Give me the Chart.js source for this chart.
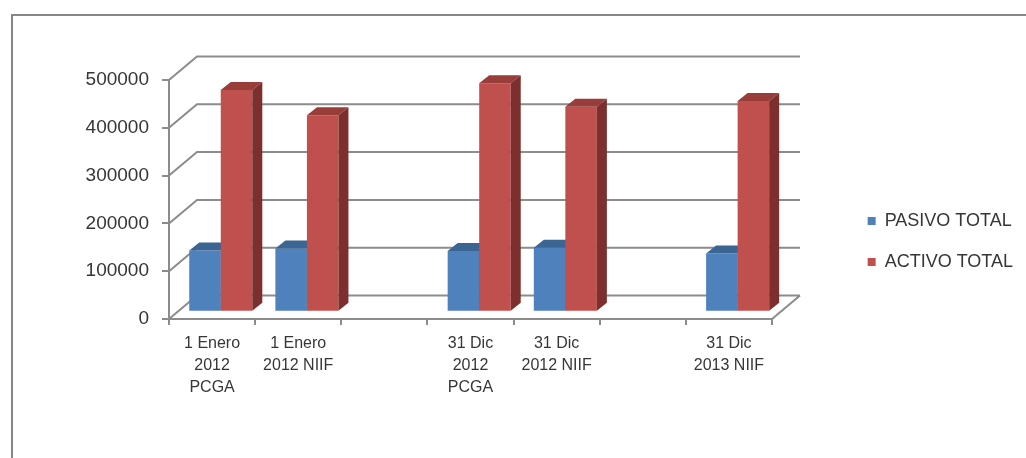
<!DOCTYPE html>
<html>
<head>
<meta charset="utf-8">
<title>Pasivo y activo total</title>
<script src="https://cdn.jsdelivr.net/npm/chart.js@4.4.1/dist/chart.umd.min.js"></script>
<style>
  html, body { margin: 0; padding: 0; background: #fff; }
  #wrap { position: relative; width: 1026px; height: 458px; }
</style>
</head>
<body>
<div id="wrap"><canvas id="chart"></canvas></div>
<script>
// Reporting dates (empty slots keep the gaps between groups)
const categories = [
  ['1 Enero', '2012', 'PCGA'],
  ['1 Enero', '2012 NIIF'],
  '',
  ['31 Dic', '2012', 'PCGA'],
  ['31 Dic', '2012 NIIF'],
  '',
  ['31 Dic', '2013 NIIF']
];
const seriesNames = ['PASIVO TOTAL', 'ACTIVO TOTAL'];
const pasivoTotal = [128000, 132000, null, 127000, 134000, null, 122000];
const activoTotal = [464000, 411000, null, 478000, 429000, null, 441000];
const yTicks = [0, 100000, 200000, 300000, 400000, 500000];

// Right edge of the plot box; the space up to the legend is kept empty
const PLOT_RIGHT = 772;
const RIGHT_PAD = 3;

// 3-D look: back wall offset, column placement inside the box, column depth
const WALL_DX = 28, WALL_DY = -23.5;
const BAR_SHIFT_X = 8.7, BAR_SHIFT_Y = -7.3;
const BAR_DX = 10, BAR_DY = -8;
const GRID = '#8c8c8c';
const TEXT = '#363636';
const shades = [
  { front: '#4f81bd', top: '#3b6592', side: '#2f5179' },
  { front: '#c0504d', top: '#993d3a', side: '#7c2f2d' }
];

Chart.defaults.font.family = "'Liberation Sans', Arial, sans-serif";

// Outer frame of the chart object
const frame = {
  id: 'frame',
  beforeDraw(chart) {
    const ctx = chart.ctx;
    ctx.save();
    ctx.fillStyle = '#fff';
    ctx.fillRect(0, 0, chart.width, chart.height);
    ctx.strokeStyle = '#878787';
    ctx.lineWidth = 2;
    ctx.beginPath();
    ctx.moveTo(12, chart.height + 2);
    ctx.lineTo(12, 15);
    ctx.lineTo(chart.width + 2, 15);
    ctx.stroke();
    ctx.restore();
  }
};

// Back wall, side wall and floor lines, then the columns with top and side faces
const box3d = {
  id: 'box3d',
  beforeDatasetsDraw(chart) {
    const { ctx, scales: { x, y } } = chart;
    const l = x.left, r = x.right, b = y.getPixelForValue(0);
    ctx.save();
    ctx.strokeStyle = GRID;
    ctx.lineWidth = 2;
    ctx.beginPath();
    y.ticks.forEach(t => {
      const py = y.getPixelForValue(t.value);
      ctx.moveTo(l, py);
      ctx.lineTo(l + WALL_DX, py + WALL_DY);
      ctx.lineTo(r + WALL_DX, py + WALL_DY);
    });
    ctx.moveTo(r, b);
    ctx.lineTo(r + WALL_DX, b + WALL_DY);
    ctx.stroke();
    ctx.restore();
  },
  beforeDatasetDraw() {
    return false; // columns are painted below, left to right
  },
  afterDatasetsDraw(chart) {
    const ctx = chart.ctx;
    const datasets = chart.data.datasets;
    const metas = datasets.map((d, i) => chart.getDatasetMeta(i));
    ctx.save();
    ctx.translate(BAR_SHIFT_X, BAR_SHIFT_Y);
    chart.data.labels.forEach((_, idx) => {
      metas.forEach((meta, di) => {
        const el = meta.data[idx];
        if (!el || meta.hidden || datasets[di].data[idx] == null) return;
        const { x, y, base, width } = el.getProps(['x', 'y', 'base', 'width'], true);
        el.draw(ctx, chart.chartArea);
        const l = x - width / 2, r = x + width / 2;
        ctx.fillStyle = shades[di].top;
        ctx.beginPath();
        ctx.moveTo(l, y);
        ctx.lineTo(r, y);
        ctx.lineTo(r + BAR_DX, y + BAR_DY);
        ctx.lineTo(l + BAR_DX, y + BAR_DY);
        ctx.closePath();
        ctx.fill();
        ctx.fillStyle = shades[di].side;
        ctx.beginPath();
        ctx.moveTo(r, y);
        ctx.lineTo(r + BAR_DX, y + BAR_DY);
        ctx.lineTo(r + BAR_DX, base + BAR_DY);
        ctx.lineTo(r, base);
        ctx.closePath();
        ctx.fill();
      });
    });
    ctx.restore();
  }
};

new Chart(document.getElementById('chart'), {
  type: 'bar',
  data: {
    labels: categories,
    datasets: [
      { label: seriesNames[0], data: pasivoTotal, backgroundColor: shades[0].front },
      { label: seriesNames[1], data: activoTotal, backgroundColor: shades[1].front }
    ]
  },
  plugins: [frame, box3d],
  options: {
    responsive: true,
    maintainAspectRatio: false,
    animation: false,
    events: [],
    layout: { padding: { top: 80, bottom: 55, left: 0, right: RIGHT_PAD } },
    datasets: {
      bar: { borderWidth: 0, categoryPercentage: 0.732, barPercentage: 1, clip: false }
    },
    scales: {
      x: {
        type: 'category',
        offset: true,
        grid: { drawOnChartArea: false, drawTicks: true, tickLength: 6, color: GRID, lineWidth: 2, offset: true },
        border: { display: true, color: GRID, width: 2 },
        ticks: {
          color: TEXT,
          font: { size: 16, lineHeight: 1.4 },
          padding: 7,
          autoSkip: false,
          maxRotation: 0,
          minRotation: 0
        },
        afterFit(s) { s.height = 84; }
      },
      y: {
        type: 'linear',
        position: 'left',
        min: 0,
        max: 500000,
        afterBuildTicks(s) { s.ticks = yTicks.map(v => ({ value: v })); },
        grid: { drawOnChartArea: false, drawTicks: true, tickLength: 7, color: GRID, lineWidth: 2 },
        border: { display: true, color: GRID, width: 2 },
        ticks: { color: TEXT, font: { size: 19 }, padding: 13, callback: v => String(v) },
        afterFit(s) { s.width = 169; }
      },
      gap: {
        type: 'linear',
        position: 'right',
        display: true,
        grid: { display: false },
        border: { display: false },
        ticks: { display: false },
        afterFit(s) {
          const lg = s.chart.legend;
          s.width = Math.max(0, s.chart.width - RIGHT_PAD - (lg ? lg.width : 0) - PLOT_RIGHT);
        }
      }
    },
    plugins: {
      legend: {
        position: 'right',
        maxWidth: 180,
        labels: {
          color: TEXT,
          font: { size: 18 },
          boxWidth: 8,
          boxHeight: 8,
          padding: 23
        }
      },
      tooltip: { enabled: false }
    }
  }
});
</script>
</body>
</html>
